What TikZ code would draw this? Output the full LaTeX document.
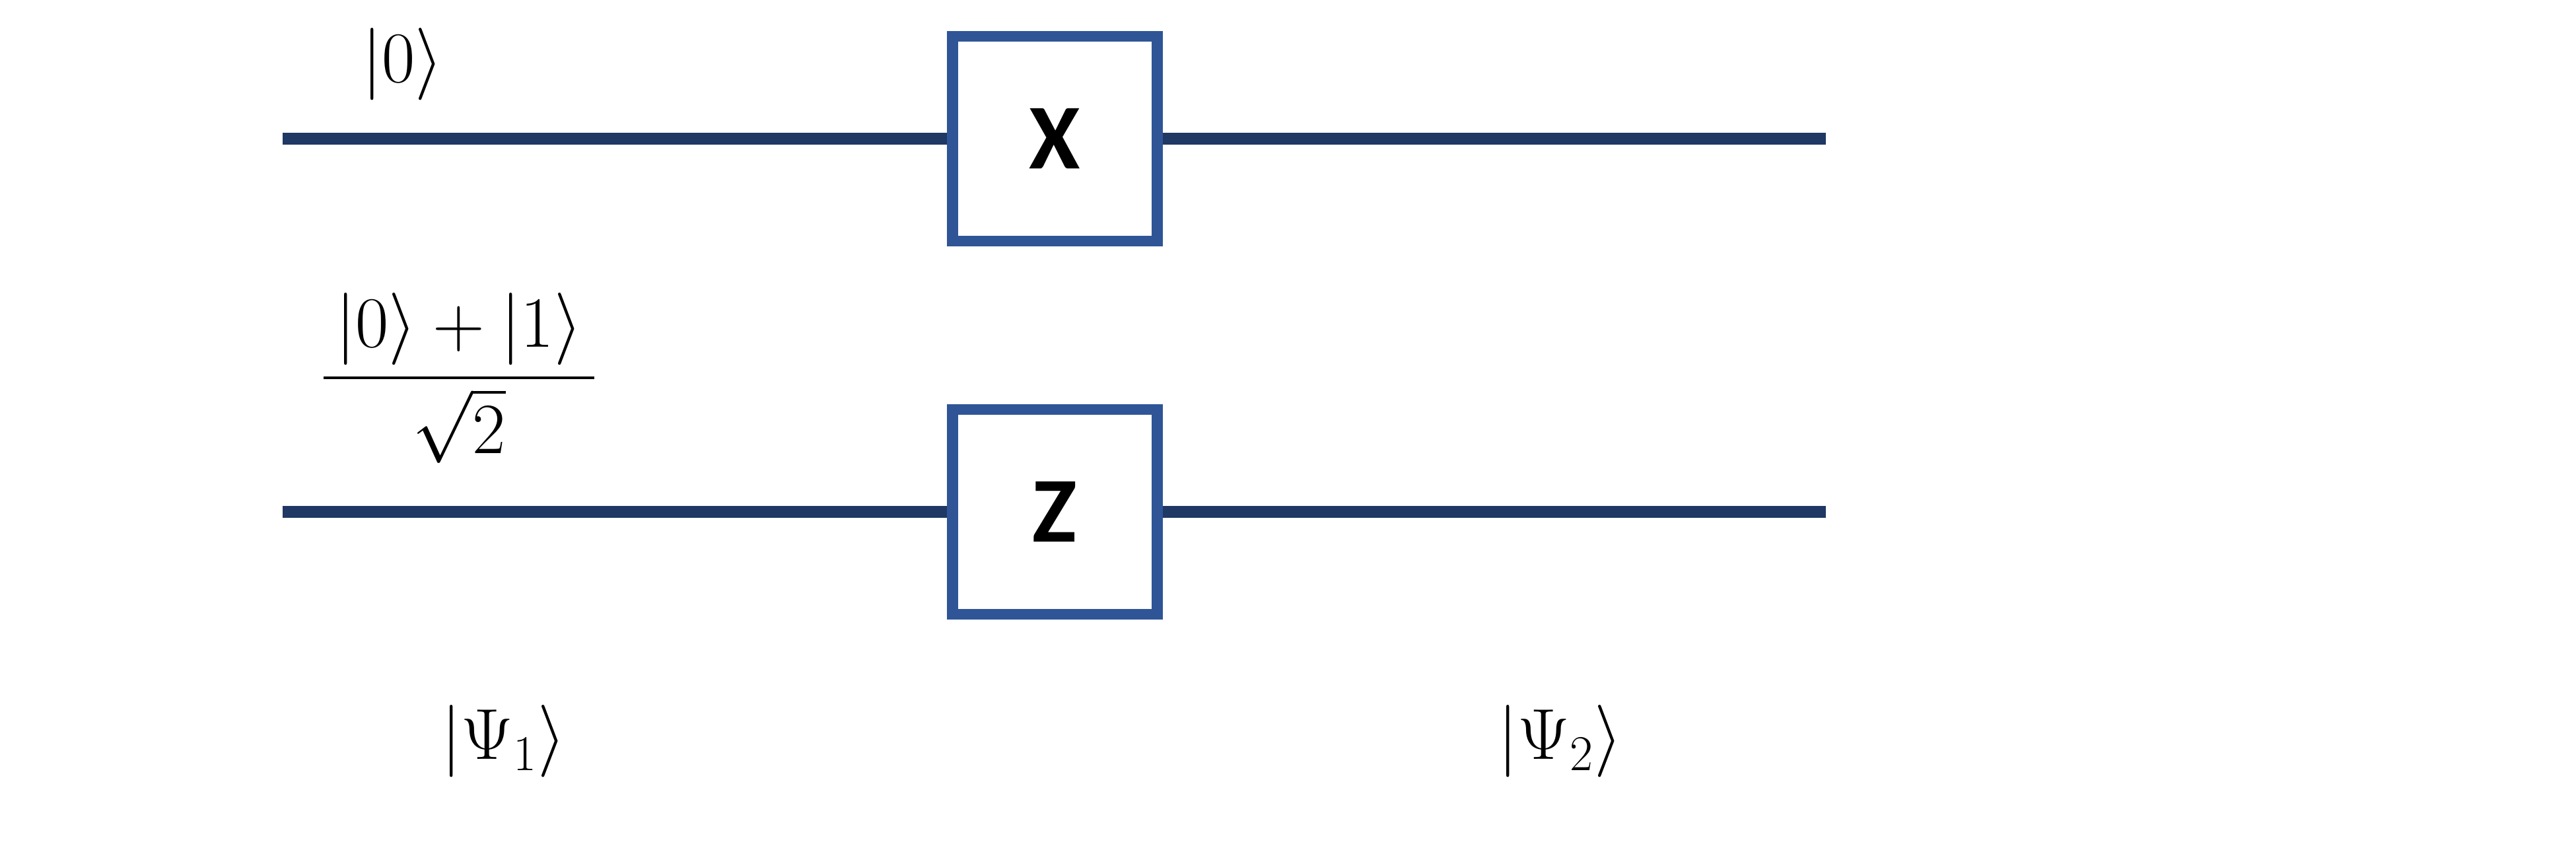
\documentclass[tikz,border=0pt]{standalone}
\usepackage{amsmath}
\usepackage{fontspec}
\newfontfamily\gatefont{Carlito}
\definecolor{wirecol}{HTML}{1F3864}
\definecolor{gatecol}{HTML}{2F5597}
\tikzstyle{gate}=[draw=gatecol, line width=3.85pt, fill=white, minimum width=2.48cm, minimum height=2.48cm, inner sep=0pt, font=\gatefont\bfseries\fontsize{32}{38}\selectfont]
\tikzstyle{wire}=[draw=wirecol, line width=3.9pt]
\tikzstyle{ket}=[inner sep=0pt, font=\fontsize{23}{28}\selectfont]
\begin{document}
\begin{tikzpicture}[x=0.02cm, y=-0.02cm]
          \useasboundingbox (0,0) rectangle (1560.4,518.4);
          \coordinate (in0) at (171,84);
          \coordinate (out0) at (1106,84);
          \coordinate (in1) at (171,310);
          \coordinate (out1) at (1106,310);
          \node[gate] (gX) at (639,84){X};
          \node[gate] (gZ) at (639,310){Z};
          \draw[wire](in0) -- (gX);
          \draw[wire](gX) -- (out0);
          \draw[wire](in1) -- (gZ);
          \draw[wire](gZ) -- (out1);
          \node[ket] (k0) at (244,39){$|0\rangle$};
          \node[ket] (kplus) at (278,229){$\dfrac{\,|0\rangle + |1\rangle\,}{\sqrt{2}}$};
          \node[ket] (psi1) at (305,449){$|\Psi_1\rangle$};
          \node[ket] (psi2) at (945,449){$|\Psi_2\rangle$};
        \end{tikzpicture}
\end{document}
